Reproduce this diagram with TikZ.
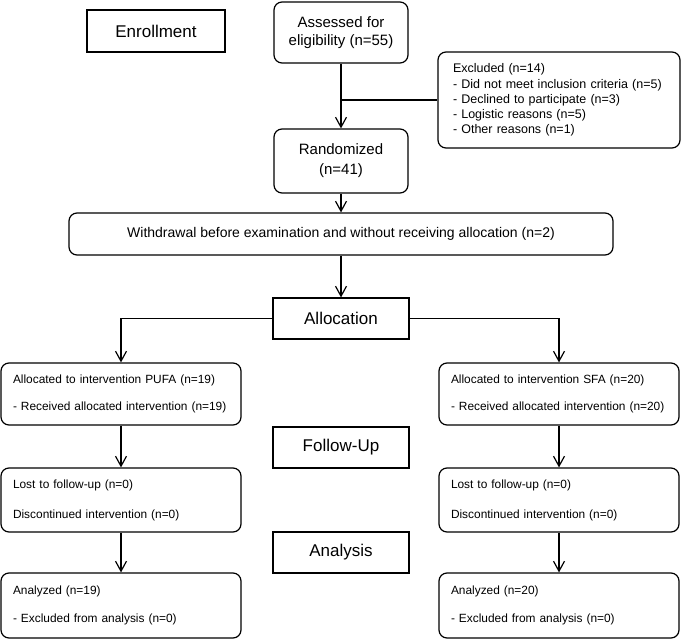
\documentclass[tikz,border=0pt]{standalone}
\usepackage{fontspec}
\setmainfont{Liberation Sans}
\usetikzlibrary{arrows.meta}

\begin{document}
\begin{tikzpicture}[x=1pt, y=-1pt, line width=1.2pt,
    >={Straight Barb[length=10pt,width=11pt]},
    phase/.style={draw, minimum width=136pt, minimum height=41pt, inner sep=0pt,
        font=\fontsize{17}{20}\selectfont},
    rbox/.style={draw, rounded corners=8pt, inner sep=0pt, align=center},
    lbox/.style={draw, rounded corners=8pt, inner xsep=12pt, inner ysep=0pt,
        text width=216pt, align=left, font=\fontsize{11.9}{14.4}\selectfont}]
\useasboundingbox (0,0) rectangle (683,640);

% enrollment
\node[phase, minimum width=138pt, minimum height=42pt] (enroll) at (156,31) {Enrollment};
\node[rbox, minimum width=134pt, minimum height=61pt, font=\fontsize{15}{18.5}\selectfont] (assess) at (341,32.5) {Assessed for\\eligibility (n=55)};
\node[lbox, inner xsep=15pt, text width=212pt, minimum height=96pt, font=\fontsize{12.5}{15.2}\selectfont] (excl) at (559,100) {Excluded (n=14)\\- Did not meet inclusion criteria (n=5)\\- Declined to participate (n=3)\\- Logistic reasons (n=5)\\- Other reasons (n=1)};
\node[rbox, minimum width=134pt, minimum height=64pt, font=\fontsize{15}{20}\selectfont] (random) at (341,161) {Randomized\\(n=41)};
\node[rbox, minimum width=544pt, minimum height=42pt, font=\fontsize{14}{17}\selectfont] (withdraw) at (341,234) {Withdrawal before examination and without receiving allocation (n=2)};
\coordinate (split) at (341,100);

% allocation
\node[phase] (alloc) at (341,318.5) {Allocation};
\node[lbox, minimum height=62pt] (pufa) at (121,394) {Allocated to intervention PUFA (n=19)\\[12.6pt]- Received allocated intervention (n=19)};
\node[lbox, minimum height=62pt] (sfa) at (559,394) {Allocated to intervention SFA (n=20)\\[12.6pt]- Received allocated intervention (n=20)};

% follow-up
\node[phase] (follow) at (341,447.5) {Follow-Up};
\node[lbox, minimum height=64pt] (lostA) at (121,500) {Lost to follow-up (n=0)\\[15.6pt]Discontinued intervention (n=0)};
\node[lbox, minimum height=64pt] (lostB) at (559,500) {Lost to follow-up (n=0)\\[15.6pt]Discontinued intervention (n=0)};

% analysis
\node[phase] (analysis) at (341,552.5) {Analysis};
\node[lbox, minimum height=65pt] (anaA) at (121,605.5) {Analyzed (n=19)\\[13.6pt]- Excluded from analysis (n=0)};
\node[lbox, minimum height=65pt] (anaB) at (559,605.5) {Analyzed (n=20)\\[13.6pt]- Excluded from analysis (n=0)};

\draw (split) -- (excl);
\draw[->] (alloc) -| (pufa);
\draw[->] (alloc) -| (sfa);
\path
    (assess) edge[->] (random)
    (random) edge[->] (withdraw)
    (withdraw) edge[->] (alloc)
    (pufa) edge[->] (lostA)
    (lostA) edge[->] (anaA)
    (sfa) edge[->] (lostB)
    (lostB) edge[->] (anaB);
\end{tikzpicture}
\end{document}
